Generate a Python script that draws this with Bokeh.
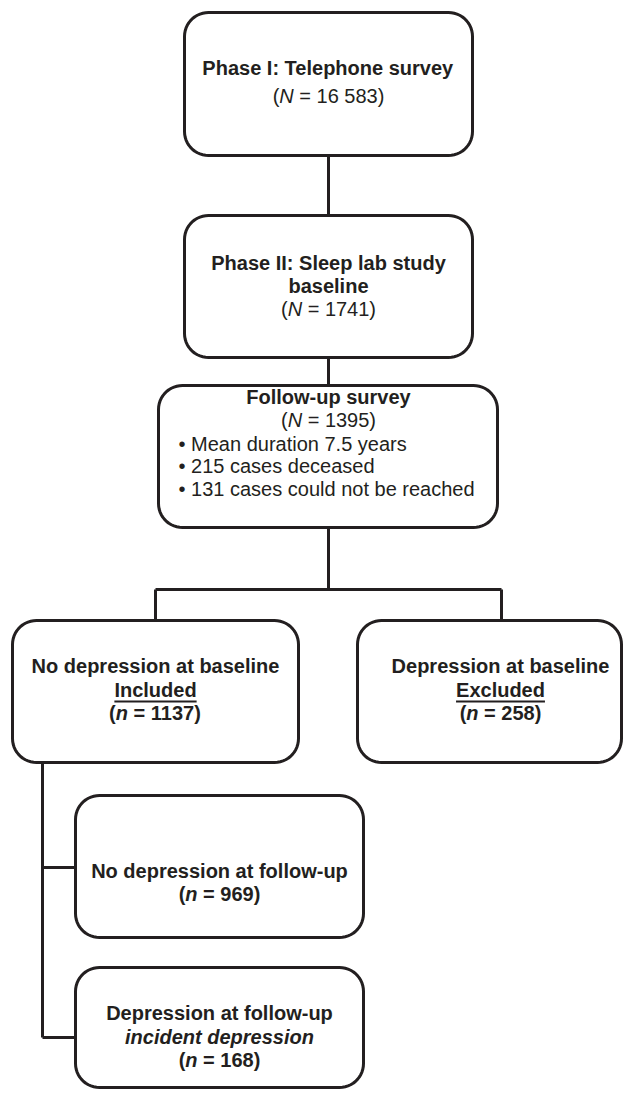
import numpy as np
from bokeh.plotting import figure
from bokeh.models import Range1d, ColumnDataSource
from bokeh.core.properties import value
from bokeh.embed import file_html
from bokeh.resources import INLINE

# ---------------- data ----------------
phase1_label = "Phase I: Telephone survey"
phase1_N = "16 583"
phase2_label = ["Phase II: Sleep lab study", "baseline"]
phase2_N = "1741"
followup_label = "Follow-up survey"
followup_N = "1395"
followup_notes = ["Mean duration 7.5 years", "215 cases deceased",
                  "131 cases could not be reached"]
group_labels = ["No depression at baseline", "Depression at baseline"]
group_status = ["Included", "Excluded"]
group_n = ["1137", "258"]
outcome_labels = ["No depression at follow-up", "Depression at follow-up"]
outcome_sub = [None, "incident depression"]
outcome_n = ["969", "168"]

# ---------------- style / layout ----------------
FS = 20
FONT = "Liberation Sans"
INK = "#231f20"
LW = 3
RAD = 24
TEXT_DY = -9   # renderer offset between requested and drawn baseline

REG = {' ': 278, '(': 333, ')': 333, '-': 333, '.': 278, ':': 278, '=': 584, '\u2022': 350,
       'A': 667, 'B': 667, 'C': 722, 'D': 722, 'E': 667, 'F': 611, 'G': 778, 'H': 722, 'I': 278,
       'J': 500, 'K': 667, 'L': 556, 'M': 833, 'N': 722, 'O': 778, 'P': 667, 'Q': 778, 'R': 722,
       'S': 667, 'T': 611, 'U': 722, 'V': 667, 'W': 944, 'X': 667, 'Y': 667, 'Z': 611,
       'a': 556, 'b': 556, 'c': 500, 'd': 556, 'e': 556, 'f': 278, 'g': 556, 'h': 556, 'i': 222,
       'j': 222, 'k': 500, 'l': 222, 'm': 833, 'n': 556, 'o': 556, 'p': 556, 'q': 556, 'r': 333,
       's': 500, 't': 278, 'u': 556, 'v': 500, 'w': 722, 'x': 500, 'y': 500, 'z': 500}
BOLD = {' ': 278, '(': 333, ')': 333, '-': 333, '.': 278, ':': 333, '=': 584, '\u2022': 350,
        'A': 722, 'B': 722, 'C': 722, 'D': 722, 'E': 667, 'F': 611, 'G': 778, 'H': 722, 'I': 278,
        'J': 556, 'K': 722, 'L': 611, 'M': 833, 'N': 722, 'O': 778, 'P': 667, 'Q': 778, 'R': 722,
        'S': 667, 'T': 611, 'U': 722, 'V': 667, 'W': 944, 'X': 667, 'Y': 667, 'Z': 611,
        'a': 556, 'b': 611, 'c': 556, 'd': 611, 'e': 556, 'f': 333, 'g': 611, 'h': 611, 'i': 278,
        'j': 278, 'k': 556, 'l': 278, 'm': 889, 'n': 611, 'o': 611, 'p': 611, 'q': 611, 'r': 389,
        's': 556, 't': 333, 'u': 611, 'v': 556, 'w': 778, 'x': 556, 'y': 556, 'z': 500}


def tw(s, bold):
    tab = BOLD if bold else REG
    return sum(tab.get(c, 556) for c in s) * FS / 1000.0


segs = {"normal": [], "bold": [], "italic": [], "bold italic": []}
underlines = []


def put_line(parts, y, cx=None, left=None, underline=False):
    """parts: list of (text, style); y is the wanted baseline"""
    total = sum(tw(t, "bold" in st) for t, st in parts)
    x = cx - total / 2.0 if left is None else left
    x_start = x
    for t, st in parts:
        b = "bold" in st
        lead = len(t) - len(t.lstrip(" "))
        s = t.strip(" ")
        if s:
            segs[st].append((x + tw(" " * lead, b), y + TEXT_DY, s))
        x += tw(t, b)
    if underline:
        underlines.append((x_start, x, y + 3))


def n_line(sym, num, y, cx, bold):
    base = "bold" if bold else "normal"
    ital = "bold italic" if bold else "italic"
    put_line([("(", base), (sym, ital), (" = " + num + ")", base)], y, cx=cx)


W, H = 623, 1089

# boxes (x0, x1, y0, y1) in pixels
boxes = [
    (184, 472, 12, 155),
    (184, 472, 215, 357),
    (158, 497, 385, 527),
    (12, 298, 620, 762),
    (357, 621, 620, 762),
    (75, 363, 795, 937),
    (75, 363, 967, 1087),
]

# connectors
conn_x = [[328, 328], [328, 328], [328, 328], [155, 501], [155, 155], [501, 501],
          [42, 42], [42, 75], [42, 75]]
conn_y = [[155, 215], [357, 385], [527, 589], [589, 589], [589, 620], [589, 620],
          [762, 1037], [867, 867], [1037, 1037]]

# text
put_line([(phase1_label, "bold")], 76, cx=328)
n_line("N", phase1_N, 104, 328, False)

put_line([(phase2_label[0], "bold")], 271, cx=328)
put_line([(phase2_label[1], "bold")], 294, cx=328)
n_line("N", phase2_N, 317, 328, False)

put_line([(followup_label, "bold")], 405, cx=328)
n_line("N", followup_N, 428, 328, False)
for i, note in enumerate(followup_notes):
    put_line([("\u2022 " + note, "normal")], [452, 474, 497][i], left=178)

for i, cx in enumerate([155, 500]):
    put_line([(group_labels[i], "bold")], 674, cx=cx)
    put_line([(group_status[i], "bold")], 698, cx=cx, underline=True)
    n_line("n", group_n[i], 721, cx, True)

put_line([(outcome_labels[0], "bold")], 879, cx=219)
n_line("n", outcome_n[0], 902, 219, True)

put_line([(outcome_labels[1], "bold")], 1021, cx=219)
put_line([(outcome_sub[1], "bold italic")], 1045, cx=219)
n_line("n", outcome_n[1], 1068, 219, True)

# ---------------- figure ----------------
p = figure(width=W, height=H, output_backend="svg", toolbar_location=None,
           x_range=Range1d(0, W), y_range=Range1d(H, 0),
           min_border=0, outline_line_color=None, background_fill_color="white")
p.axis.visible = False
p.grid.visible = False


def rrect(x0, x1, y0, y1, r, n=14):
    xs, ys = [], []
    for cx, cy, a0, a1 in [(x1 - r, y0 + r, -90, 0), (x1 - r, y1 - r, 0, 90),
                           (x0 + r, y1 - r, 90, 180), (x0 + r, y0 + r, 180, 270)]:
        t = np.radians(np.linspace(a0, a1, n))
        xs += list(cx + r * np.cos(t))
        ys += list(cy + r * np.sin(t))
    return xs, ys


p.multi_line(conn_x, conn_y, line_color=INK, line_width=LW)

bx, by = zip(*[rrect(*b, RAD) for b in boxes])
p.patches(list(bx), list(by), fill_color="white", line_color=INK, line_width=LW,
          line_join="round")

for st, items in segs.items():
    if not items:
        continue
    src = ColumnDataSource(dict(x=[a[0] for a in items], y=[a[1] for a in items],
                                t=[a[2] for a in items]))
    p.text("x", "y", text="t", source=src, text_font=value(FONT),
           text_font_size=value(f"{FS}px"), text_font_style=st, text_color=INK,
           text_align="left", text_baseline="alphabetic")

if underlines:
    p.segment([u[0] for u in underlines], [u[2] for u in underlines],
              [u[1] for u in underlines], [u[2] for u in underlines],
              line_color=INK, line_width=1.8)

open("out.html", "w").write(file_html(p, INLINE))
